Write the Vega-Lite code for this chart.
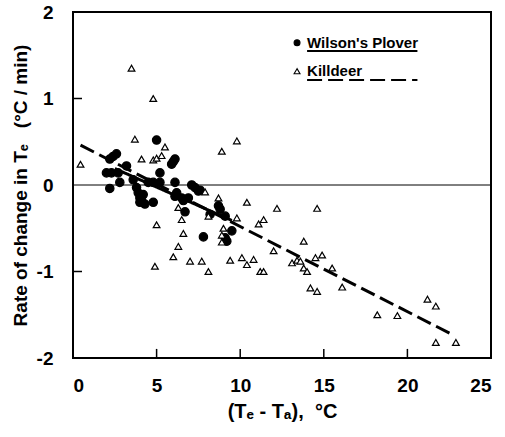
{
  "$schema": "https://vega.github.io/schema/vega-lite/v6.json",
  "width": 418,
  "height": 346,
  "autosize": "none",
  "padding": {"left": 73, "top": 12, "right": 14, "bottom": 79},
  "background": "white",
  "config": {
    "font": "Liberation Sans",
    "view": {"stroke": "black", "strokeWidth": 2},
    "axis": {"grid": false, "domain": false, "ticks": false, "labelFont": "Liberation Sans", "labelFontWeight": "bold", "labelFontSize": 19, "labelColor": "black", "titleFont": "Liberation Sans", "titleFontWeight": "bold", "titleFontSize": 19, "titleColor": "black"}
  },
  "datasets": {
    "pts": [
      {"sp": "Wilson's Plover", "x": 2.0, "y": 0.14}, {"sp": "Wilson's Plover", "x": 2.3, "y": 0.14}, {"sp": "Wilson's Plover", "x": 2.7, "y": 0.14},
      {"sp": "Wilson's Plover", "x": 2.2, "y": 0.30}, {"sp": "Wilson's Plover", "x": 2.4, "y": 0.33}, {"sp": "Wilson's Plover", "x": 2.6, "y": 0.36},
      {"sp": "Wilson's Plover", "x": 3.2, "y": 0.22}, {"sp": "Wilson's Plover", "x": 2.2, "y": -0.04}, {"sp": "Wilson's Plover", "x": 2.8, "y": 0.03},
      {"sp": "Wilson's Plover", "x": 3.8, "y": -0.03}, {"sp": "Wilson's Plover", "x": 3.9, "y": -0.09}, {"sp": "Wilson's Plover", "x": 4.0, "y": -0.15},
      {"sp": "Wilson's Plover", "x": 4.0, "y": -0.20}, {"sp": "Wilson's Plover", "x": 4.1, "y": -0.18}, {"sp": "Wilson's Plover", "x": 4.2, "y": -0.11},
      {"sp": "Wilson's Plover", "x": 4.5, "y": 0.03}, {"sp": "Wilson's Plover", "x": 4.8, "y": 0.03}, {"sp": "Wilson's Plover", "x": 5.2, "y": 0.03},
      {"sp": "Wilson's Plover", "x": 4.8, "y": -0.20}, {"sp": "Wilson's Plover", "x": 5.0, "y": 0.52}, {"sp": "Wilson's Plover", "x": 5.2, "y": 0.14},
      {"sp": "Wilson's Plover", "x": 6.0, "y": 0.27}, {"sp": "Wilson's Plover", "x": 6.1, "y": 0.30}, {"sp": "Wilson's Plover", "x": 5.9, "y": 0.24},
      {"sp": "Wilson's Plover", "x": 6.1, "y": 0.03}, {"sp": "Wilson's Plover", "x": 6.2, "y": -0.09}, {"sp": "Wilson's Plover", "x": 6.1, "y": -0.13},
      {"sp": "Wilson's Plover", "x": 6.5, "y": -0.15}, {"sp": "Wilson's Plover", "x": 6.6, "y": -0.18}, {"sp": "Wilson's Plover", "x": 6.9, "y": -0.15},
      {"sp": "Wilson's Plover", "x": 6.7, "y": -0.31}, {"sp": "Wilson's Plover", "x": 7.1, "y": 0.0}, {"sp": "Wilson's Plover", "x": 7.3, "y": -0.03},
      {"sp": "Wilson's Plover", "x": 7.5, "y": -0.07}, {"sp": "Wilson's Plover", "x": 7.6, "y": -0.06}, {"sp": "Wilson's Plover", "x": 8.7, "y": -0.24},
      {"sp": "Wilson's Plover", "x": 8.8, "y": -0.28}, {"sp": "Wilson's Plover", "x": 8.2, "y": -0.34}, {"sp": "Wilson's Plover", "x": 9.1, "y": -0.36},
      {"sp": "Wilson's Plover", "x": 9.5, "y": -0.53}, {"sp": "Wilson's Plover", "x": 9.1, "y": -0.61}, {"sp": "Wilson's Plover", "x": 9.2, "y": -0.65},
      {"sp": "Wilson's Plover", "x": 7.8, "y": -0.60}, {"sp": "Wilson's Plover", "x": 4.3, "y": -0.22}, {"sp": "Wilson's Plover", "x": 3.6, "y": 0.06},
      {"sp": "Killdeer", "x": 0.45, "y": 0.24}, {"sp": "Killdeer", "x": 3.5, "y": 1.35}, {"sp": "Killdeer", "x": 4.8, "y": 1.0},
      {"sp": "Killdeer", "x": 3.7, "y": 0.53}, {"sp": "Killdeer", "x": 5.5, "y": 0.44}, {"sp": "Killdeer", "x": 4.1, "y": 0.30},
      {"sp": "Killdeer", "x": 4.8, "y": 0.29}, {"sp": "Killdeer", "x": 5.0, "y": 0.31}, {"sp": "Killdeer", "x": 5.3, "y": 0.34},
      {"sp": "Killdeer", "x": 8.9, "y": 0.39}, {"sp": "Killdeer", "x": 9.8, "y": 0.51}, {"sp": "Killdeer", "x": 7.9, "y": -0.08},
      {"sp": "Killdeer", "x": 8.7, "y": -0.15}, {"sp": "Killdeer", "x": 10.4, "y": -0.20}, {"sp": "Killdeer", "x": 12.2, "y": -0.27},
      {"sp": "Killdeer", "x": 14.6, "y": -0.27}, {"sp": "Killdeer", "x": 6.3, "y": -0.26}, {"sp": "Killdeer", "x": 6.5, "y": -0.40},
      {"sp": "Killdeer", "x": 5.0, "y": -0.46}, {"sp": "Killdeer", "x": 8.1, "y": -0.36}, {"sp": "Killdeer", "x": 9.0, "y": -0.50},
      {"sp": "Killdeer", "x": 9.8, "y": -0.38}, {"sp": "Killdeer", "x": 6.6, "y": -0.56}, {"sp": "Killdeer", "x": 8.9, "y": -0.58},
      {"sp": "Killdeer", "x": 8.9, "y": -0.66}, {"sp": "Killdeer", "x": 11.1, "y": -0.45}, {"sp": "Killdeer", "x": 11.4, "y": -0.40},
      {"sp": "Killdeer", "x": 6.3, "y": -0.71}, {"sp": "Killdeer", "x": 6.0, "y": -0.83}, {"sp": "Killdeer", "x": 7.0, "y": -0.88},
      {"sp": "Killdeer", "x": 7.7, "y": -0.88}, {"sp": "Killdeer", "x": 9.4, "y": -0.87}, {"sp": "Killdeer", "x": 10.1, "y": -0.84},
      {"sp": "Killdeer", "x": 10.4, "y": -0.92}, {"sp": "Killdeer", "x": 10.8, "y": -0.86}, {"sp": "Killdeer", "x": 4.9, "y": -0.94},
      {"sp": "Killdeer", "x": 8.1, "y": -1.0}, {"sp": "Killdeer", "x": 11.2, "y": -1.0}, {"sp": "Killdeer", "x": 11.4, "y": -1.0},
      {"sp": "Killdeer", "x": 12.0, "y": -0.76}, {"sp": "Killdeer", "x": 13.8, "y": -0.65}, {"sp": "Killdeer", "x": 13.1, "y": -0.90},
      {"sp": "Killdeer", "x": 13.4, "y": -0.87}, {"sp": "Killdeer", "x": 13.6, "y": -0.88}, {"sp": "Killdeer", "x": 13.8, "y": -0.96},
      {"sp": "Killdeer", "x": 14.0, "y": -1.0}, {"sp": "Killdeer", "x": 14.5, "y": -0.84}, {"sp": "Killdeer", "x": 14.9, "y": -0.81},
      {"sp": "Killdeer", "x": 15.5, "y": -0.96}, {"sp": "Killdeer", "x": 14.2, "y": -1.19}, {"sp": "Killdeer", "x": 14.6, "y": -1.23},
      {"sp": "Killdeer", "x": 16.1, "y": -1.18}, {"sp": "Killdeer", "x": 18.2, "y": -1.50}, {"sp": "Killdeer", "x": 19.4, "y": -1.51},
      {"sp": "Killdeer", "x": 21.2, "y": -1.32}, {"sp": "Killdeer", "x": 21.7, "y": -1.40}, {"sp": "Killdeer", "x": 21.7, "y": -1.82},
      {"sp": "Killdeer", "x": 22.9, "y": -1.82}
    ],
    "fits": [
      {"fit": "Wilson's Plover", "x": 2.5, "y": 0.19}, {"fit": "Wilson's Plover", "x": 9.5, "y": -0.41},
      {"fit": "Killdeer", "x": 0.45, "y": 0.46}, {"fit": "Killdeer", "x": 22.7, "y": -1.73}
    ],
    "xticks": [{"t": 5, "lo": -2, "hi": -1.895}, {"t": 10, "lo": -2, "hi": -1.895}, {"t": 15, "lo": -2, "hi": -1.895}, {"t": 20, "lo": -2, "hi": -1.895}],
    "yticks": [{"t": -1, "lo": 0, "hi": 0.54}, {"t": 1, "lo": 0, "hi": 0.54}],
    "key": [
      {"sp": "Wilson's Plover", "kx": 13.4, "tx": 14.0, "ux": 20.6, "ky": 1.645, "uy": 1.55},
      {"sp": "Killdeer", "kx": 13.4, "tx": 14.0, "ux": 20.6, "ky": 1.315, "uy": 1.215}
    ]
  },
  "layer": [
    {
      "data": {"values": [{"z": 0}]},
      "mark": {"type": "rule", "color": "black", "strokeWidth": 1},
      "encoding": {"y": {"field": "z", "type": "quantitative"}}
    },
    {
      "data": {"name": "xticks"},
      "mark": {"type": "rule", "color": "black", "strokeWidth": 1.5},
      "encoding": {"x": {"field": "t", "type": "quantitative"}, "y": {"field": "lo", "type": "quantitative"}, "y2": {"field": "hi"}}
    },
    {
      "data": {"name": "yticks"},
      "mark": {"type": "rule", "color": "black", "strokeWidth": 1.5},
      "encoding": {"y": {"field": "t", "type": "quantitative"}, "x": {"field": "lo", "type": "quantitative"}, "x2": {"field": "hi"}}
    },
    {
      "data": {"name": "fits"},
      "mark": {"type": "line", "color": "black", "strokeWidth": 3},
      "encoding": {
        "x": {"field": "x", "type": "quantitative"},
        "y": {"field": "y", "type": "quantitative"},
        "detail": {"field": "fit"},
        "strokeDash": {"field": "fit", "type": "nominal", "scale": {"domain": ["Wilson's Plover", "Killdeer"], "range": [[1, 0], [15, 6]]}, "legend": null}
      }
    },
    {
      "data": {"name": "pts"},
      "mark": {"type": "point", "stroke": "black", "strokeWidth": 1.2, "opacity": 1},
      "encoding": {
        "x": {"field": "x", "type": "quantitative", "scale": {"domain": [0, 25], "nice": false}, "axis": {"values": [0, 5, 10, 15, 20, 25], "labelExpr": "'' + datum.value", "labelPadding": 18, "title": "(Tₑ - Tₐ),\u00a0\u00a0°C", "titleFontSize": 20, "titlePadding": 6}},
        "y": {"field": "y", "type": "quantitative", "scale": {"domain": [-2, 2], "nice": false}, "axis": {"values": [-2, -1, 0, 1, 2], "labelExpr": "'' + datum.value", "labelPadding": 20, "title": "Rate of change in Tₑ\u00a0\u00a0\u00a0(°C / min)", "titlePadding": 6}},
        "shape": {"field": "sp", "type": "nominal", "scale": {"domain": ["Wilson's Plover", "Killdeer"], "range": ["circle", "triangle-up"]}, "legend": null},
        "fill": {"field": "sp", "type": "nominal", "scale": {"domain": ["Wilson's Plover", "Killdeer"], "range": ["black", "white"]}, "legend": null},
        "size": {"field": "sp", "type": "nominal", "scale": {"domain": ["Wilson's Plover", "Killdeer"], "range": [70, 45]}, "legend": null}
      }
    },
    {
      "data": {"name": "key"},
      "mark": {"type": "point", "stroke": "black", "strokeWidth": 1.1, "opacity": 1, "size": 35},
      "encoding": {
        "x": {"field": "kx", "type": "quantitative"},
        "y": {"field": "ky", "type": "quantitative"},
        "shape": {"field": "sp", "type": "nominal", "legend": null},
        "fill": {"field": "sp", "type": "nominal", "legend": null}
      }
    },
    {
      "data": {"name": "key"},
      "mark": {"type": "text", "align": "left", "baseline": "middle", "font": "Liberation Sans", "fontWeight": "bold", "fontSize": 15, "color": "black"},
      "encoding": {
        "x": {"field": "tx", "type": "quantitative"},
        "y": {"field": "ky", "type": "quantitative"},
        "text": {"field": "sp"}
      }
    },
    {
      "data": {"name": "key"},
      "mark": {"type": "rule", "color": "black", "strokeWidth": 2},
      "encoding": {
        "x": {"field": "tx", "type": "quantitative"},
        "x2": {"field": "ux"},
        "y": {"field": "uy", "type": "quantitative"},
        "strokeDash": {"field": "sp", "type": "nominal", "legend": null}
      }
    }
  ]
}
